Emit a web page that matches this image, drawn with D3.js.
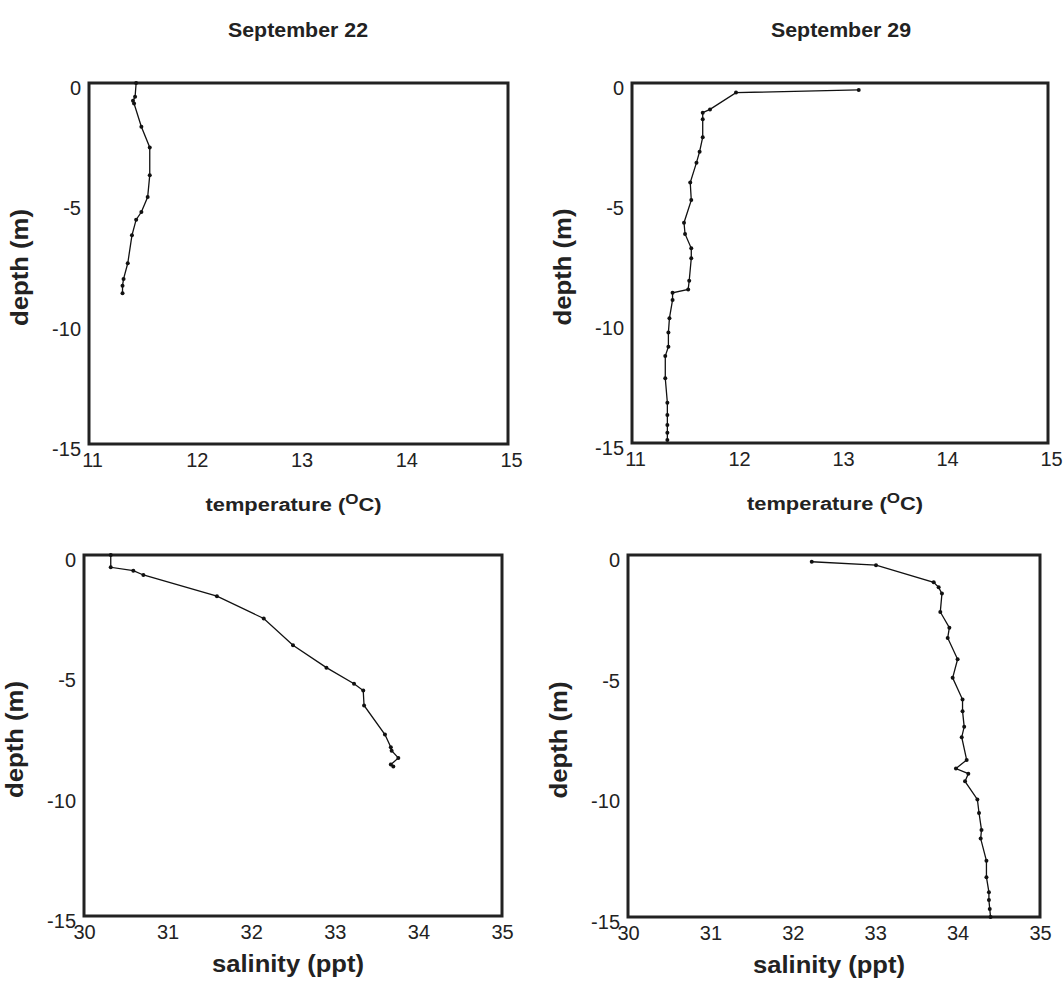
<!DOCTYPE html>
<html>
<head>
<meta charset="utf-8">
<script src="https://cdn.jsdelivr.net/npm/d3@7"></script>
<style>
  html, body { margin: 0; padding: 0; background: #fff; }
  svg { display: block; }
  text { font-family: "Liberation Sans", Arial, Helvetica, sans-serif; fill: #222; }
</style>
</head>
<body>
<svg id="chart" width="1064" height="991"></svg>
<script>
// ---- Data (depth in m, negative downward) ----
const sep22TempDepth = [0, -0.57, -0.74, -0.85, -1.82, -2.68, -3.83, -4.74, -5.36, -5.68, -6.33, -7.49, -8.14, -8.42, -8.74];
const sep22Temp      = [11.45, 11.44, 11.42, 11.43, 11.50, 11.58, 11.58, 11.56, 11.50, 11.45, 11.41, 11.37, 11.33, 11.32, 11.32];

const sep29TempDepth = [-0.29, -0.40, -1.10, -1.24, -1.51, -2.26, -2.86, -3.32, -4.15, -4.88, -5.82, -6.29, -6.89, -7.30, -8.24, -8.60, -8.74, -9.04, -9.80, -10.40, -10.99, -11.38, -12.30, -13.32, -13.83, -14.25, -14.57, -14.88];
const sep29Temp      = [13.18, 12.00, 11.75, 11.68, 11.68, 11.68, 11.65, 11.62, 11.56, 11.57, 11.50, 11.51, 11.57, 11.57, 11.55, 11.54, 11.39, 11.39, 11.36, 11.35, 11.35, 11.32, 11.32, 11.34, 11.34, 11.34, 11.34, 11.34];

const sep22SalDepth  = [0, -0.51, -0.65, -0.83, -1.71, -2.64, -3.75, -4.68, -5.35, -5.63, -6.25, -7.46, -7.99, -8.13, -8.43, -8.71, -8.79];
const sep22Sal       = [30.32, 30.32, 30.59, 30.71, 31.59, 32.15, 32.50, 32.90, 33.23, 33.34, 33.35, 33.60, 33.67, 33.68, 33.76, 33.67, 33.70];

const sep29SalDepth  = [-0.28, -0.42, -1.13, -1.34, -1.60, -2.36, -3.01, -3.44, -4.32, -5.09, -5.99, -6.47, -7.12, -7.55, -8.49, -8.85, -9.06, -9.38, -10.13, -10.69, -11.39, -11.75, -12.67, -13.35, -13.97, -14.30, -14.67, -15.0];
const sep29Sal       = [32.23, 33.01, 33.71, 33.77, 33.81, 33.79, 33.90, 33.88, 34.00, 33.94, 34.06, 34.06, 34.08, 34.05, 34.11, 33.98, 34.13, 34.09, 34.24, 34.26, 34.29, 34.28, 34.35, 34.35, 34.38, 34.38, 34.39, 34.40];

const depthTicks = [0, -5, -10, -15];
const tempTicks  = [11, 12, 13, 14, 15];
const salTicks   = [30, 31, 32, 33, 34, 35];

const dates = ["September 22", "September 29"];

// ---- Layout ----
const svg = d3.select("#chart");

const panels = [
  { box: [89, 83, 508, 444],  xDom: [11, 15], ticks: tempTicks, depth: sep22TempDepth, vals: sep22Temp, kind: "temp" },
  { box: [632, 83, 1048, 443], xDom: [11, 15], ticks: tempTicks, depth: sep29TempDepth, vals: sep29Temp, kind: "temp" },
  { box: [84, 555, 502, 916], xDom: [30, 35], ticks: salTicks,  depth: sep22SalDepth,  vals: sep22Sal,  kind: "sal" },
  { box: [628, 555, 1040, 917], xDom: [30, 35], ticks: salTicks, depth: sep29SalDepth,  vals: sep29Sal,  kind: "sal" }
];

// titles
svg.append("text").attr("x", 298).attr("y", 37).attr("text-anchor", "middle")
  .attr("font-size", 20).attr("font-weight", "bold")
  .attr("textLength", 140).attr("lengthAdjust", "spacingAndGlyphs").text(dates[0]);
svg.append("text").attr("x", 841).attr("y", 37).attr("text-anchor", "middle")
  .attr("font-size", 20).attr("font-weight", "bold")
  .attr("textLength", 140).attr("lengthAdjust", "spacingAndGlyphs").text(dates[1]);

const fmt = d => String(d);

panels.forEach(p => {
  const [x0, y0, x1, y1] = p.box;
  const x = d3.scaleLinear().domain(p.xDom).range([x0, x1]);
  const y = d3.scaleLinear().domain([0, -15]).range([y0, y1]);

  // y axis labels
  const gy = svg.append("g").attr("transform", `translate(${x0},5)`)
    .call(d3.axisLeft(y).tickValues(depthTicks).tickSize(0).tickPadding(8).tickFormat(fmt));
  gy.select(".domain").remove();
  gy.selectAll("text").attr("font-size", 20).attr("font-family", "Liberation Sans, Arial, sans-serif").attr("fill", "#222");

  // x axis labels
  const gx = svg.append("g").attr("transform", `translate(${p.kind === "temp" ? 3 : 0},${y1})`)
    .call(d3.axisBottom(x).tickValues(p.ticks).tickSize(0).tickPadding(9).tickFormat(fmt));
  gx.select(".domain").remove();
  gx.selectAll("text").attr("font-size", 20).attr("font-family", "Liberation Sans, Arial, sans-serif").attr("fill", "#222");

  // frame
  svg.append("rect").attr("x", x0).attr("y", y0).attr("width", x1 - x0).attr("height", y1 - y0)
    .attr("fill", "none").attr("stroke", "#222").attr("stroke-width", 3);

  // data line
  const pts = p.depth.map((d, i) => [p.vals[i], d]);
  svg.append("path").datum(pts)
    .attr("fill", "none").attr("stroke", "#111").attr("stroke-width", 1.3)
    .attr("d", d3.line().x(d => x(d[0])).y(d => y(d[1])));
  svg.append("g").selectAll("circle").data(pts).join("circle")
    .attr("cx", d => x(d[0])).attr("cy", d => y(d[1])).attr("r", 2).attr("fill", "#111");

  // y label
  const cx = x0 - 61, cy = (y0 + y1) / 2 + 4;
  svg.append("text").attr("transform", `translate(${cx},${cy}) rotate(-90)`)
    .attr("text-anchor", "middle").attr("font-size", 23).attr("font-weight", "bold")
    .attr("textLength", 117).attr("lengthAdjust", "spacingAndGlyphs").text("depth (m)");

  // x label
  const mx = (x0 + x1) / 2 - 5;
  if (p.kind === "temp") {
    const t = svg.append("text").attr("x", mx).attr("y", y1 + 67).attr("text-anchor", "middle")
      .attr("font-size", 18).attr("font-weight", "bold")
      .attr("textLength", 176).attr("lengthAdjust", "spacingAndGlyphs");
    t.append("tspan").text("temperature (");
    t.append("tspan").attr("font-size", 14).attr("dy", -7).text("O");
    t.append("tspan").attr("dy", 7).text("C)");
  } else {
    svg.append("text").attr("x", mx).attr("y", y1 + 56).attr("text-anchor", "middle")
      .attr("font-size", 23).attr("font-weight", "bold")
      .attr("textLength", 152).attr("lengthAdjust", "spacingAndGlyphs").text("salinity (ppt)");
  }
});
</script>
</body>
</html>
